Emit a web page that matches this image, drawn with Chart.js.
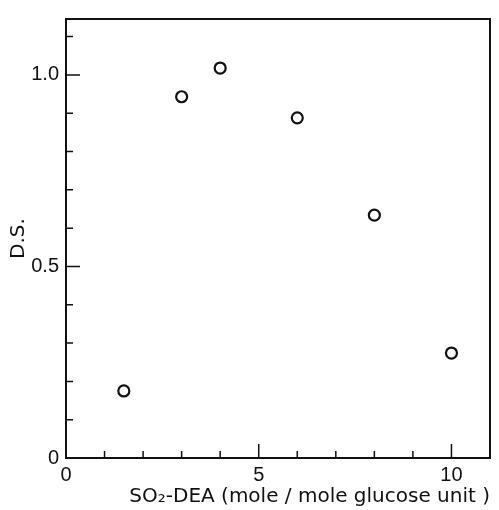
<!DOCTYPE html>
<html>
<head>
<meta charset="utf-8">
<script src="https://cdn.jsdelivr.net/npm/chart.js@4/dist/chart.umd.min.js"></script>
<style>
  html, body { margin: 0; padding: 0; background: #fff; }
  #wrap { width: 499px; height: 510px; }
</style>
</head>
<body>
<div id="wrap"><canvas id="myChart" width="499" height="510"></canvas></div>
<script>
// data
const xValues = [1.5, 3, 4, 6, 8, 10];
const dsValues = [0.175, 0.943, 1.018, 0.888, 0.634, 0.274];

// axis ticks
const xTicks = [0, 1, 2, 3, 4, 5, 6, 7, 8, 9, 10];
const xLabeled = [0, 5, 10];
const yTicks = [0, 0.1, 0.2, 0.3, 0.4, 0.5, 0.6, 0.7, 0.8, 0.9, 1.0, 1.1];
const yLabeled = ['0', '0.5', '1.0'];

const ink = '#111';
const tickFont = { family: '"Liberation Sans", Arial, sans-serif', size: 20 };
const titleFont = { family: '"DejaVu Sans", sans-serif', size: 20 };

function isMajorY(v) {
    return yLabeled.some(function (l) { return Math.abs(parseFloat(l) - v) < 1e-6; });
}

// frame + inward ticks
const frameTicks = {
    id: 'frameTicks',
    afterDatasetsDraw(chart) {
        const ctx = chart.ctx;
        const a = chart.chartArea;
        const xs = chart.scales.x;
        const ys = chart.scales.y;
        ctx.save();
        ctx.strokeStyle = ink;
        ctx.lineWidth = 2;
        ctx.strokeRect(a.left, a.top, a.right - a.left, a.bottom - a.top);
        ctx.lineWidth = 1.5;
        ctx.beginPath();
        xTicks.forEach(function (v) {
            if (v === 0) return;
            const px = xs.getPixelForValue(v);
            const len = xLabeled.indexOf(v) >= 0 ? 14 : 7;
            ctx.moveTo(px, a.bottom);
            ctx.lineTo(px, a.bottom - len);
        });
        yTicks.forEach(function (v) {
            if (v === 0) return;
            const py = ys.getPixelForValue(v);
            const len = isMajorY(v) ? 14 : 7;
            ctx.moveTo(a.left, py);
            ctx.lineTo(a.left + len, py);
        });
        ctx.stroke();
        ctx.restore();
    }
};

const data = {
    datasets: [{
        data: xValues.map(function (x, i) { return { x: x, y: dsValues[i] }; }),
        pointStyle: 'circle',
        pointRadius: 5.5,
        pointBorderWidth: 2.2,
        pointBorderColor: ink,
        pointBackgroundColor: '#fff',
        showLine: false
    }]
};

const config = {
    type: 'scatter',
    data: data,
    options: {
        responsive: false,
        animation: false,
        devicePixelRatio: 1,
        layout: { padding: { top: 10, right: 9, left: 0, bottom: 0 } },
        plugins: { legend: { display: false }, tooltip: { enabled: false } },
        scales: {
            x: {
                type: 'linear',
                min: 0,
                max: 11,
                afterBuildTicks: function (s) { s.ticks = xTicks.map(function (v) { return { value: v }; }); },
                afterFit: function (s) { s.height = 52; },
                grid: { display: false, drawTicks: false },
                border: { display: false },
                ticks: {
                    color: ink,
                    font: tickFont,
                    padding: 5,
                    maxRotation: 0,
                    autoSkip: false,
                    callback: function (v) { return xLabeled.indexOf(v) >= 0 ? String(v) : ''; }
                },
                title: {
                    display: true,
                    text: 'SO\u2082-DEA (mole / mole glucose unit )',
                    color: ink,
                    font: titleFont,
                    align: 'end',
                    padding: { top: 0, bottom: 1 }
                }
            },
            y: {
                type: 'linear',
                min: 0,
                max: 1.146,
                afterBuildTicks: function (s) { s.ticks = yTicks.map(function (v) { return { value: v }; }); },
                afterFit: function (s) { s.width = 66; },
                grid: { display: false, drawTicks: false },
                border: { display: false },
                ticks: {
                    color: ink,
                    font: tickFont,
                    padding: 7,
                    autoSkip: false,
                    callback: function (v) {
                        for (let i = 0; i < yLabeled.length; i++) {
                            if (Math.abs(parseFloat(yLabeled[i]) - v) < 1e-6) return yLabeled[i];
                        }
                        return '';
                    }
                },
                title: {
                    display: true,
                    text: 'D.S.',
                    color: ink,
                    font: titleFont,
                    padding: { top: 7, bottom: 0 }
                }
            }
        }
    },
    plugins: [frameTicks]
};

const myChart = new Chart(document.getElementById('myChart').getContext('2d'), config);
</script>
</body>
</html>
